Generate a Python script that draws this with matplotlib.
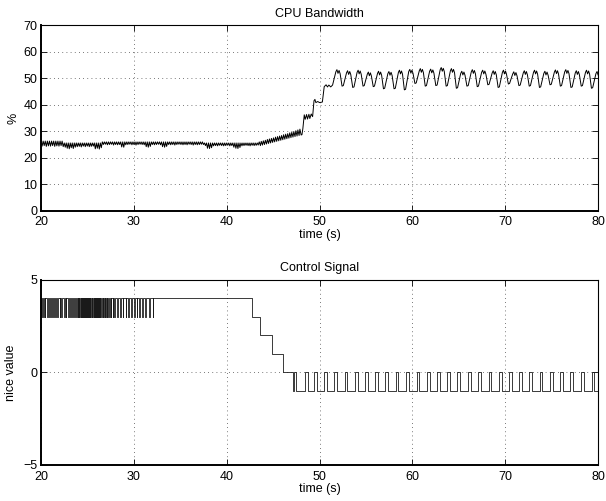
import matplotlib
matplotlib.use("Agg")
import matplotlib.pyplot as plt
import numpy as np

plt.rcParams['font.family'] = ['Liberation Sans', 'DejaVu Sans']
plt.rcParams['font.size'] = 9

# ---- CPU bandwidth: fast ripple part (segment start, end, top level, tooth lows)
ripple_segments = [
    (20.0, 22.5, 26.3, [24.4, 24.6, 24.3, 24.5, 24.4, 24.6, 24.3, 24.5, 24.4, 24.6, 24.2]),
    (22.5, 26.6, 25.6, [24.0, 23.6, 23.4, 23.8, 23.5, 24.0, 24.2, 24.3, 24.1, 24.4,
                        24.2, 24.4, 24.2, 24.3, 24.4, 23.4, 23.6, 23.3, 23.8]),
    (26.6, 37.6, 26.0, [25.0, 25.1, 24.9, 25.0, 25.1, 24.8, 25.0, 24.9, 25.0, 24.1,
                        24.0, 24.9, 25.0, 25.1, 24.9, 25.0, 24.8, 25.0, 25.1, 25.0,
                        24.9, 24.2, 24.0, 24.3, 25.0, 24.9, 25.0, 25.1, 24.9, 24.2,
                        24.0, 24.3, 25.0, 24.9, 25.0, 24.8, 25.0, 25.1, 25.0, 24.9,
                        25.0, 24.9, 25.1, 25.0, 24.8, 25.0, 24.9, 25.0, 25.1, 25.0]),
    (37.6, 43.5, 25.6, [24.6, 23.6, 23.5, 23.8, 24.5, 24.6, 24.5, 24.7, 24.6, 24.5,
                        24.6, 24.7, 24.5, 24.6, 24.0, 23.6, 23.5, 23.9, 24.5, 24.6,
                        24.7, 24.6, 24.5, 24.7, 24.6, 24.7, 24.8]),
]
# rising sawtooth before the jump
ramp_top = [26.0, 26.2, 26.4, 26.6, 26.9, 27.1, 27.3, 27.5, 27.8, 28.0, 28.2,
            28.4, 28.7, 28.9, 29.1, 29.4, 29.6, 29.9, 30.2, 30.5, 30.8]
ramp_low = [24.6, 24.8, 25.0, 25.2, 25.4, 25.6, 25.8, 26.0, 26.2, 26.4, 26.6,
            26.8, 27.0, 27.2, 27.4, 27.6, 27.8, 28.0, 28.2, 28.4, 28.6]
ramp_start, ramp_end = 43.5, 48.1

# the step up to the new level
jump_t = [48.1, 48.2, 48.35, 48.45, 48.6, 48.7, 48.85, 48.95, 49.1, 49.25, 49.4, 49.5,
          49.6, 49.8, 50.0, 50.3, 50.5, 50.7, 50.85, 51.0, 51.2, 51.4]
jump_v = [28.7, 31.0, 36.2, 34.5, 36.3, 34.6, 36.4, 34.8, 36.5, 35.5, 41.5, 42.0,
          40.8, 41.2, 40.8, 41.0, 46.8, 47.5, 46.7, 47.4, 46.7, 47.4]

# steady oscillation: cycle starts, peak and trough levels
cycle_start = [51.5, 52.65, 53.8, 54.9, 56.0, 57.1, 58.25, 59.35, 60.5, 61.6, 62.75,
               63.85, 64.95, 66.1, 67.2, 68.35, 69.45, 70.55, 71.7, 72.8, 73.9, 75.05,
               76.15, 77.3, 78.4, 79.5]
cycle_peak = [53.2, 52.8, 53.0, 52.3, 52.6, 52.5, 53.0, 53.3, 53.6, 53.4, 54.0, 53.6,
              52.6, 53.2, 53.0, 52.8, 53.0, 52.4, 52.8, 53.0, 52.6, 53.1, 53.2, 52.8,
              53.0, 52.5]
cycle_trough = [47.0, 46.5, 47.0, 46.8, 46.0, 46.0, 45.6, 48.0, 47.0, 47.2, 47.0, 46.2,
                47.0, 46.8, 47.5, 46.5, 47.8, 47.2, 47.0, 46.5, 47.5, 47.0, 46.5, 47.0,
                46.2, 47.0]

# ---- control signal (nice value)
early_dips = [20.0, 20.2, 20.4, 20.65, 20.85, 21.1, 21.3, 21.55, 21.75, 22.0, 22.2,
              22.45, 22.65, 22.9, 23.1, 23.35, 23.55, 23.8, 23.95, 24.05, 24.15, 24.25,
              24.35, 24.45, 24.55, 24.65, 24.75, 24.85, 24.95, 25.05, 25.15, 25.25,
              25.35, 25.45, 25.55, 25.65, 25.75, 25.85, 25.95, 26.05, 26.15, 26.25,
              26.4, 26.55, 26.7, 26.85, 27.0, 27.15, 27.3, 27.5, 27.7, 27.9, 28.2,
              28.5, 28.8, 29.1, 29.4, 29.7, 30.0, 30.3, 30.6, 30.9, 31.2, 31.67, 32.03]
step_down_t = [42.69, 43.59, 44.85, 46.1, 47.1]
step_down_v = [3, 2, 1, 0, -1]
late_pulses = [47.2, 48.4, 49.45, 50.45, 51.6, 52.7, 53.8, 54.9, 56.0, 57.1, 58.2,
               59.35, 60.45, 61.55, 62.65, 63.75, 64.85, 66.0, 67.1, 68.2, 69.3, 70.4,
               71.5, 72.6, 73.7, 74.8, 75.9, 77.0, 78.15, 79.3]
late_width = 0.3


def cpu_series():
    t, v = [], []
    for start, end, hi, lows in ripple_segments:
        tt = np.linspace(start, end, len(lows), endpoint=False)
        dt = tt[1] - tt[0]
        for ti, lo in zip(tt, lows):
            t += [ti, ti + dt * 0.5]
            v += [hi, lo]
    tt = np.linspace(ramp_start, ramp_end, len(ramp_top), endpoint=False)
    dt = tt[1] - tt[0]
    for ti, hi, lo in zip(tt, ramp_top, ramp_low):
        t += [ti, ti + dt * 0.6]
        v += [hi, lo]
    t += jump_t
    v += jump_v
    starts = cycle_start + [80.7]
    for i in range(len(cycle_start)):
        s, p = starts[i], starts[i + 1] - starts[i]
        pk, tr = cycle_peak[i], cycle_trough[i]
        t += [s + 0.22 * p, s + 0.32 * p, s + 0.42 * p, s + 0.52 * p, s + 0.62 * p,
              s + 0.8 * p, s + 0.92 * p]
        v += [pk - 0.8, pk, pk - 1.4, pk - 0.3, pk - 1.5, tr, tr + 0.2]
    return np.array(t), np.array(v)


def control_series():
    t, v = [19.9], [4]
    for d in early_dips:
        t += [d, d + 0.08]
        v += [3, 4]
    for ti, vi in zip(step_down_t, step_down_v):
        t.append(ti)
        v.append(vi)
    for p in late_pulses:
        t += [p, p + late_width]
        v += [0, -1]
    t.append(80.5)
    v.append(-1)
    return np.array(t), np.array(v)


fig = plt.figure(figsize=(6.06, 5.01), dpi=100)
ax1 = fig.add_axes([0.0677, 0.579, 0.9193, 0.371])
ax2 = fig.add_axes([0.0677, 0.0719, 0.9193, 0.3693])

tc, vc = cpu_series()
ax1.plot(tc, vc, color='k', lw=0.7)
ax1.set_xlim(20, 80)
ax1.set_ylim(0, 70)
ax1.set_yticks(range(0, 71, 10))
ax1.set_title('CPU Bandwidth', fontsize=9, pad=5.5)
ax1.set_xlabel('time (s)', labelpad=0.5)
ax1.set_ylabel('%', labelpad=3)

ts, vs = control_series()
ax2.step(ts, vs, where='post', color='0.1', lw=0.6)
ax2.set_xlim(20, 80)
ax2.set_ylim(-5, 5)
ax2.set_yticks([-5, 0, 5])
ax2.set_title('Control Signal', fontsize=9, pad=6.5)
ax2.set_xlabel('time (s)', labelpad=0.5)
ax2.set_ylabel('nice value', labelpad=4.5)

for ax in (ax1, ax2):
    ax.set_xticks(range(20, 81, 10))
    ax.grid(True, linestyle=(0, (1, 4)), color='k', lw=0.6, alpha=0.7)
    ax.tick_params(direction='in', top=True, right=True, length=4, width=0.6,
                   labelsize=9)
    ax.tick_params(axis='x', pad=4)
    ax.tick_params(axis='y', pad=2.5)
    for side in ('left', 'bottom'):
        ax.spines[side].set_linewidth(1.4)
    for side in ('right', 'top'):
        ax.spines[side].set_linewidth(0.8)

fig.savefig('out.png', dpi=100)
